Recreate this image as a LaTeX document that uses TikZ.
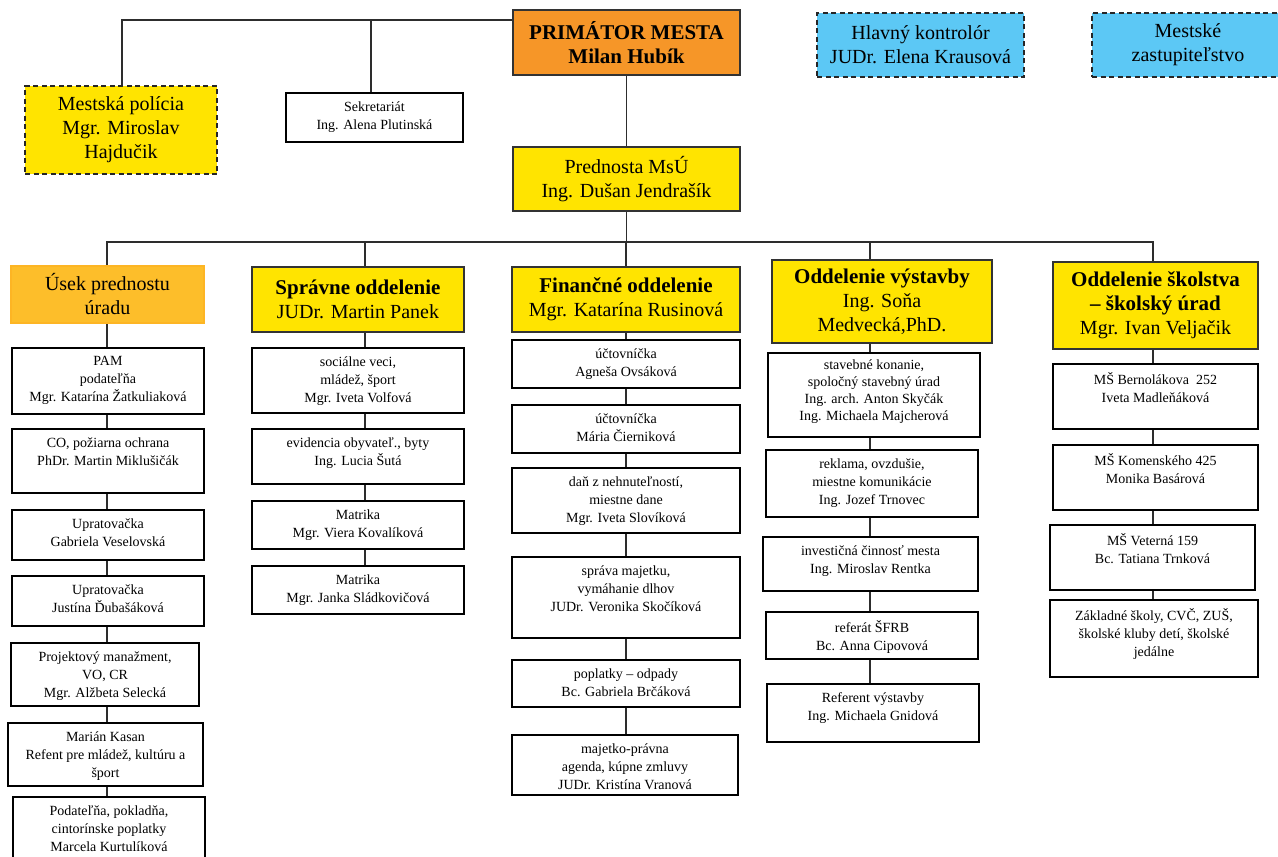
\documentclass[tikz,border=0pt]{standalone}
\usepackage{fontspec}
\setmainfont{Liberation Serif}
\usetikzlibrary{fit,backgrounds}
\definecolor{prim}{RGB}{246,150,40}
\definecolor{usek}{RGB}{253,190,42}
\definecolor{yel}{RGB}{255,228,0}
\definecolor{blu}{RGB}{92,200,245}
\definecolor{ln}{RGB}{45,45,45}
\newcommand{\hb}[1]{{\fontsize{21}{24}\selectfont\bfseries #1}}
\tikzset{
  box/.style={draw=black, line width=1.1pt, fill=white, inner sep=0pt},
  hdr/.style={draw=black!80, line width=1.1pt, inner sep=0pt},
  dbox/.style={hdr, dash pattern=on 5pt off 3.5pt, line width=1.8pt, draw=black!85},
  htxt/.style={inner sep=0pt, align=center, font=\fontsize{20}{24}\selectfont},
  txt/.style={anchor=north, yshift=-9pt, inner sep=0pt, align=center,
     font=\fontsize{14}{18}\selectfont},
  conn/.style={draw=ln, line width=1.3pt},
}
\begin{document}
\begin{tikzpicture}[x=1pt,y=-1pt]
\useasboundingbox (0,0) rectangle (1278,857);
% top level
\node[hdr, fill=prim, fit={(513,10) (740,75)}] (prim) {};
\node[htxt] (prim-t) at (prim.center) {\hb{PRIMÁTOR MESTA}\\\hb{Milan Hubík}};
\node[dbox, fill=blu, fit={(817,13) (1024,77)}] (kontr) {};
\node[htxt] (kontr-t) at (kontr.center) {Hlavný kontrolór\\JUDr. Elena Krausová};
\node[dbox, fill=blu, fit={(1092,13) (1284,77)}] (zast) {};
\node[htxt] (zast-t) at (zast.center) {Mestské\\zastupiteľstvo};
\node[dbox, fill=yel, fit={(25,86) (217,174)}] (pol) {};
\node[htxt] (pol-t) at (pol.center) {Mestská polícia\\Mgr. Miroslav\\Hajdučik};
\node[box, fit={(286,93) (463,142)}] (sek) {};
\node[txt] (sek-t) at (sek.north) {Sekretariát\\Ing. Alena Plutinská};
\node[hdr, fill=yel, fit={(513,147) (740,211)}] (pred) {};
\node[htxt] (pred-t) at (pred.center) {Prednosta MsÚ\\Ing. Dušan Jendrašík};
% column headers
\node[hdr, fill=usek, draw=usek!85!orange, fit={(11,266) (204,323)}] (c1h) {};
\node[htxt] (c1h-t) at (c1h.center) {Úsek prednostu\\úradu};
\node[hdr, fill=yel, fit={(252,267) (464,332)}] (c2h) {};
\node[htxt] (c2h-t) at (c2h.center) {\hb{Správne oddelenie}\\JUDr. Martin Panek};
\node[hdr, fill=yel, fit={(512,267) (740,332)}] (c3h) {};
\node[htxt] (c3h-t) at (c3h.center) {\hb{Finančné oddelenie}\\Mgr. Katarína Rusinová};
\node[hdr, fill=yel, fit={(772,260) (992,343)}] (c4h) {};
\node[htxt] (c4h-t) at (c4h.center) {\hb{Oddelenie výstavby}\\Ing. Soňa\\Medvecká,PhD.};
\node[hdr, fill=yel, fit={(1053,262) (1258,349)}] (c5h) {};
\node[htxt] (c5h-t) at (c5h.center) {\hb{Oddelenie školstva}\\\hb{– školský úrad}\\Mgr. Ivan Veljačik};
% column 1
\node[box, fit={(12,348) (204,414)}] (c1a) {};
\node[txt] (c1a-t) at (c1a.north) {PAM\\podateľňa\\Mgr. Katarína Žatkuliaková};
\node[box, fit={(12,429) (204,493)}] (c1b) {};
\node[txt] (c1b-t) at (c1b.north) {CO, požiarna ochrana\\PhDr. Martin Miklušičák};
\node[box, fit={(12,510) (204,560)}] (c1c) {};
\node[txt] (c1c-t) at (c1c.north) {Upratovačka\\Gabriela Veselovská};
\node[box, fit={(12,576) (204,626)}] (c1d) {};
\node[txt] (c1d-t) at (c1d.north) {Upratovačka\\Justína Ďubašáková};
\node[box, fit={(11,643) (199,706)}] (c1e) {};
\node[txt] (c1e-t) at (c1e.north) {Projektový manažment,\\VO, CR\\Mgr. Alžbeta Selecká};
\node[box, fit={(8,723) (203,786)}] (c1f) {};
\node[txt] (c1f-t) at (c1f.north) {Marián Kasan\\Refent pre mládež, kultúru a\\šport};
\node[box, fit={(13,797) (205,864)}] (c1g) {};
\node[txt] (c1g-t) at (c1g.north) {Podateľňa, pokladňa,\\cintorínske poplatky\\Marcela Kurtulíková};
% column 2
\node[box, fit={(252,348) (464,413)}] (c2a) {};
\node[txt] (c2a-t) at (c2a.north) {sociálne veci,\\mládež, šport\\Mgr. Iveta Volfová};
\node[box, fit={(252,429) (464,484)}] (c2b) {};
\node[txt] (c2b-t) at (c2b.north) {evidencia obyvateľ., byty\\Ing. Lucia Šutá};
\node[box, fit={(252,501) (464,549)}] (c2c) {};
\node[txt] (c2c-t) at (c2c.north) {Matrika\\Mgr. Viera Kovalíková};
\node[box, fit={(252,566) (464,614)}] (c2d) {};
\node[txt] (c2d-t) at (c2d.north) {Matrika\\Mgr. Janka Sládkovičová};
% column 3
\node[box, fit={(512,340) (740,388)}] (c3a) {};
\node[txt] (c3a-t) at (c3a.north) {účtovníčka\\Agneša Ovsáková};
\node[box, fit={(512,405) (740,453)}] (c3b) {};
\node[txt] (c3b-t) at (c3b.north) {účtovníčka\\Mária Čierniková};
\node[box, fit={(512,468) (740,533)}] (c3c) {};
\node[txt] (c3c-t) at (c3c.north) {daň z nehnuteľností,\\miestne dane\\Mgr. Iveta Slovíková};
\node[box, fit={(512,557) (740,638)}] (c3d) {};
\node[txt] (c3d-t) at (c3d.north) {správa majetku,\\vymáhanie dlhov\\JUDr. Veronika Skočíková};
\node[box, fit={(512,660) (740,707)}] (c3e) {};
\node[txt] (c3e-t) at (c3e.north) {poplatky – odpady\\Bc. Gabriela Brčáková};
\node[box, fit={(512,735) (738,795)}] (c3f) {};
\node[txt] (c3f-t) at (c3f.north) {majetko-právna\\agenda, kúpne zmluvy\\JUDr. Kristína Vranová};
% column 4
\node[box, fit={(768,353) (980,437)}] (c4a) {};
\node[txt, yshift=2pt, font=\fontsize{14}{17}\selectfont] (c4a-t) at (c4a.north) {stavebné konanie,\\spoločný stavebný úrad\\Ing. arch. Anton Skyčák\\Ing. Michaela Majcherová};
\node[box, fit={(766,450) (978,517)}] (c4b) {};
\node[txt] (c4b-t) at (c4b.north) {reklama, ovzdušie,\\miestne komunikácie\\Ing. Jozef Trnovec};
\node[box, fit={(763,537) (978,591)}] (c4c) {};
\node[txt] (c4c-t) at (c4c.north) {investičná činnosť mesta\\Ing. Miroslav Rentka};
\node[box, fit={(766,612) (978,659)}] (c4d) {};
\node[txt] (c4d-t) at (c4d.north) {referát ŠFRB\\Bc. Anna Cipovová};
\node[box, fit={(767,684) (979,742)}] (c4e) {};
\node[txt] (c4e-t) at (c4e.north) {Referent výstavby\\Ing. Michaela Gnidová};
% column 5
\node[box, fit={(1053,364) (1258,429)}] (c5a) {};
\node[txt] (c5a-t) at (c5a.north) {MŠ Bernolákova~~252\\Iveta Madleňáková};
\node[box, fit={(1053,445) (1258,510)}] (c5b) {};
\node[txt] (c5b-t) at (c5b.north) {MŠ Komenského 425\\Monika Basárová};
\node[box, fit={(1050,525) (1255,590)}] (c5c) {};
\node[txt] (c5c-t) at (c5c.north) {MŠ Veterná 159\\Bc. Tatiana Trnková};
\node[box, fit={(1050,600) (1258,677)}] (c5d) {};
\node[txt] (c5d-t) at (c5d.north) {Základné školy, CVČ, ZUŠ,\\školské kluby detí, školské\\jedálne};
% helper coordinates
\coordinate (tl) at (513,20);
\coordinate (bus) at (0,242);
\coordinate (x1) at (107,0);
\coordinate (x2) at (365,0);
\coordinate (x3) at (626,0);
\coordinate (x4) at (870,0);
\coordinate (x5) at (1153,0);
\coordinate (xp) at (122,0);
\coordinate (xs) at (371,0);
\begin{scope}[on background layer]
\fill[white] (0,0) rectangle (1278,857);
\draw[conn] (xp |- pol.north) -- (xp |- tl) -- (tl);
\draw[conn] (xs |- sek.north) -- (xs |- tl);
\draw[conn] (prim.south) -- (pred.north);
\draw[conn] (pred.south) -- (pred.south |- bus);
\draw[conn] (x1 |- c1h.north) -- (x1 |- bus) -- (x5 |- bus) -- (x5 |- c5h.north);
\draw[conn] (x2 |- bus) -- (x2 |- c2h.north);
\draw[conn] (x3 |- bus) -- (x3 |- c3h.north);
\draw[conn] (x4 |- bus) -- (x4 |- c4h.north);
\draw[conn] (x1 |- c1h.south) -- (x1 |- c1g.north);
\draw[conn] (x2 |- c2h.south) -- (x2 |- c2d.north);
\draw[conn] (x3 |- c3h.south) -- (x3 |- c3f.north);
\draw[conn] (x4 |- c4h.south) -- (x4 |- c4e.north);
\draw[conn] (x5 |- c5h.south) -- (x5 |- c5d.north);
\end{scope}
\end{tikzpicture}
\end{document}
